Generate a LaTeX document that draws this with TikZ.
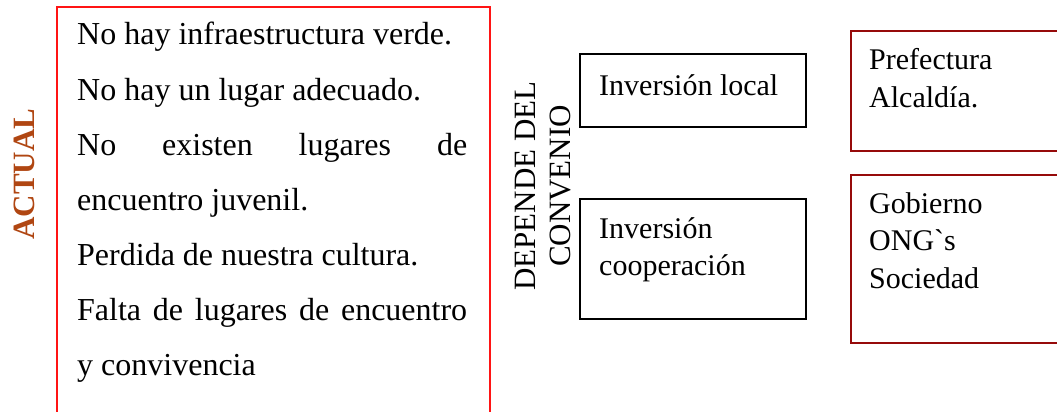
\documentclass[tikz,border=0pt]{standalone}
\usepackage{fontspec}
\setmainfont{Liberation Serif}
\definecolor{actualc}{RGB}{176,70,18}
\definecolor{boxred}{RGB}{255,20,20}
\definecolor{darkred}{RGB}{150,10,10}
\tikzset{
  txt/.style={inner sep=0pt, anchor=base west, font=\fontsize{30}{37}\selectfont},
  bigtxt/.style={txt, font=\fontsize{32}{37}\selectfont},
  redframe/.style={draw=boxred, line width=1.6pt, inner sep=0pt, anchor=north west},
  blackbox/.style={draw=black, line width=1.6pt, inner sep=0pt, anchor=north west},
  darkbox/.style={draw=darkred, line width=1.6pt, inner sep=0pt, anchor=north west},
}
\begin{document}
\begin{tikzpicture}[x=1pt,y=-1pt]
\useasboundingbox (0,0) rectangle (1057,412);
\clip (0,0) rectangle (1057,412);
% left frame (open below the picture)
\node[redframe, minimum width=433pt, minimum height=440pt] (frame) at (56,6) {};
\node[inner sep=0pt, rotate=90, text=actualc, font=\fontsize{31}{31}\selectfont\bfseries] (actual) at (24,174) {ACTUAL};
\node[bigtxt] (l1) at (77,45) {No hay infraestructura verde.};
\node[bigtxt] (l2) at (77,100) {No hay un lugar adecuado.};
\node[bigtxt] (l3) at (77,155) {\makebox[390pt][s]{No existen lugares de}};
\node[bigtxt] (l4) at (77,210) {encuentro juvenil.};
\node[bigtxt] (l5) at (77,265) {Perdida de nuestra cultura.};
\node[bigtxt] (l6) at (77,320) {\makebox[390pt][s]{Falta de lugares de encuentro}};
\node[bigtxt] (l7) at (77,375) {y convivencia};
% rotated label
\node[inner sep=0pt, rotate=90, font=\fontsize{31}{35}\selectfont, align=center] (dep) at (543.5,186) {DEPENDE DEL\\CONVENIO};
% middle boxes
\node[blackbox, minimum width=226pt, minimum height=73pt] (local) at (579,53) {};
\node[txt] (localt) at (599,95) {Inversión local};
\node[blackbox, minimum width=226pt, minimum height=120pt] (coop) at (579,198) {};
\node[txt] (coopt1) at (599,238) {Inversión};
\node[txt] (coopt2) at (599,275) {cooperación};
% right boxes (open to the right)
\node[darkbox, minimum width=240pt, minimum height=120pt] (pref) at (850,30) {};
\node[txt] (preft1) at (869,70) {Prefectura};
\node[txt] (preft2) at (869,107) {Alcaldía.};
\node[darkbox, minimum width=240pt, minimum height=168pt] (gob) at (850,174) {};
\node[txt] (gobt1) at (869,213) {Gobierno};
\node[txt] (gobt2) at (869,250) {ONG\textasciigrave s};
\node[txt] (gobt3) at (869,288) {Sociedad};
\end{tikzpicture}
\end{document}
